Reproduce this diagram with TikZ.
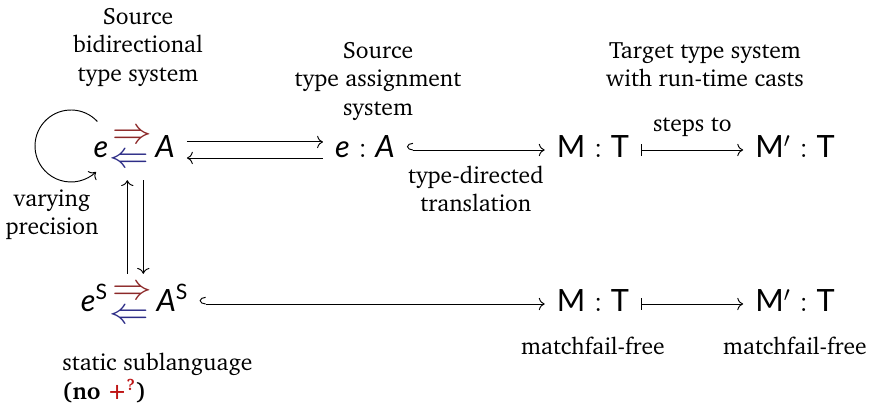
\documentclass[tikz,border=0pt]{standalone}
\usepackage[T1]{fontenc}
\usepackage{fontspec}
\usetikzlibrary{arrows.meta}
\newfontfamily\mathsans{Lato}
% Charter for the running text
\newcommand\chr{\fontencoding{T1}\fontfamily{bch}\selectfont}
\definecolor{synred}{RGB}{140,40,40}
\definecolor{chkblue}{RGB}{45,45,135}
\definecolor{plusred}{RGB}{190,20,20}
\newcommand\mv[1]{{\mathsans\itshape #1}}
\newcommand\mt[1]{{\mathsans #1}}
\newcommand\hasty{\hspace{0.28em}:\hspace{0.28em}}
\newcommand\sups[1]{\raisebox{0.42em}{\fontsize{9}{9}\selectfont\mathsans #1}}
% synthesis arrow over checking arrow, side bearings trimmed
\newcommand\bidir{\vbox{\offinterlineskip
  \hbox{\kern-2pt\color{synred}\scalebox{1.4}[1.3]{$\Rightarrow$}\kern-2pt}\vskip 4.6pt
  \hbox{\kern-3pt\color{chkblue}\scalebox{1.4}[1.3]{$\Leftarrow$}\kern-1pt}}}
\begin{document}
\begin{tikzpicture}[x=0.424pt,y=0.424pt,
  txt/.style={font=\chr\fontsize{10}{12}\selectfont, inner sep=0pt},
  mnode/.style={font=\fontsize{13}{15}\selectfont, anchor=base,
    text height=6.8pt, text depth=0pt, inner ysep=0pt, inner xsep=5pt},
  tight/.style={inner xsep=0pt},
  bnode/.style={font=\fontsize{13}{15}\selectfont, inner xsep=0pt, inner ysep=5pt},
  hookto/.style={{Hooks[right,width=6pt,length=2.5pt]}->},
  mapsto/.style={{Bar[width=5pt]}->}]
\useasboundingbox (0,0) rectangle (884,407);

% column headings
\node[txt, align=center, anchor=north] (t1) at (138,399) {Source\\bidirectional\\type system};
\node[txt, align=center, anchor=north] (t2) at (378,365) {Source\\type assignment\\system};
\node[txt, align=center, anchor=north] (t3) at (705,365) {Target type system\\with run-time casts};

% upper row
\node[mnode, tight] (e1) at (101,249) {\mv{e}};
\node[bnode] (b1) at (132,258) {\bidir};
\node[mnode, tight] (A1) at (165,249) {\mv{A}};
\node[mnode] (ea) at (365,249) {\mv{e}\hasty\mv{A}};
\node[mnode] (mt1) at (593,249) {\mt{M}\hasty\mt{T}};
\node[mnode] (mp1) at (795,249) {\mt{M}$'$\hasty\mt{T}};

% lower row
\node[mnode, tight] (e2) at (94,95) {\mv{e}\sups{S}};
\node[bnode] (b2) at (132,102) {\bidir};
\node[mnode, tight] (A2) at (172,95) {\mv{A}\sups{S}};
\node[mnode] (mt2) at (593,95) {\mt{M}\hasty\mt{T}};
\node[mnode] (mp2) at (795,95) {\mt{M}$'$\hasty\mt{T}};

% self loop on the bidirectional judgment
\coordinate (lc) at (71,261);
\draw[->] (lc) ++(43:36) arc[start angle=43, end angle=314, radius=36];
\node[txt, align=center, anchor=north] (vp) at (52,218) {varying\\precision};

% connectors
\draw[->, shorten <=5pt] ([yshift=3.4pt]A1.east) -- ([yshift=3.4pt]ea.west);
\draw[<-, shorten <=5pt] ([yshift=-3.4pt]A1.east) -- ([yshift=-3.4pt]ea.west);
\draw[hookto] (ea) -- node[txt, align=center, below=6.5pt] (tdt) {type-directed\\translation} (mt1);
\draw[mapsto] (mt1) -- node[txt, above=5.5pt] (st) {steps to} (mp1);
\draw[->] ([xshift=-2pt]b2.north) -- ([xshift=-2pt]b1.south);
\draw[->] ([xshift=4.8pt]b1.south) -- ([xshift=4.8pt]b2.north);
\draw[hookto, shorten <=5pt] (A2) -- (mt2);
\draw[mapsto] (mt2) -- (mp2);

% annotations of the lower row
\node[txt, anchor=base] (mf1) at (593,52) {matchfail-free};
\node[txt, anchor=base] (mf2) at (795,52) {matchfail-free};
\node[txt, align=left, anchor=north west] (sl) at (62,54)
  {static sublanguage\\\textbf{(no \textcolor{plusred}{+\textsuperscript{?}})}};
\end{tikzpicture}
\end{document}
